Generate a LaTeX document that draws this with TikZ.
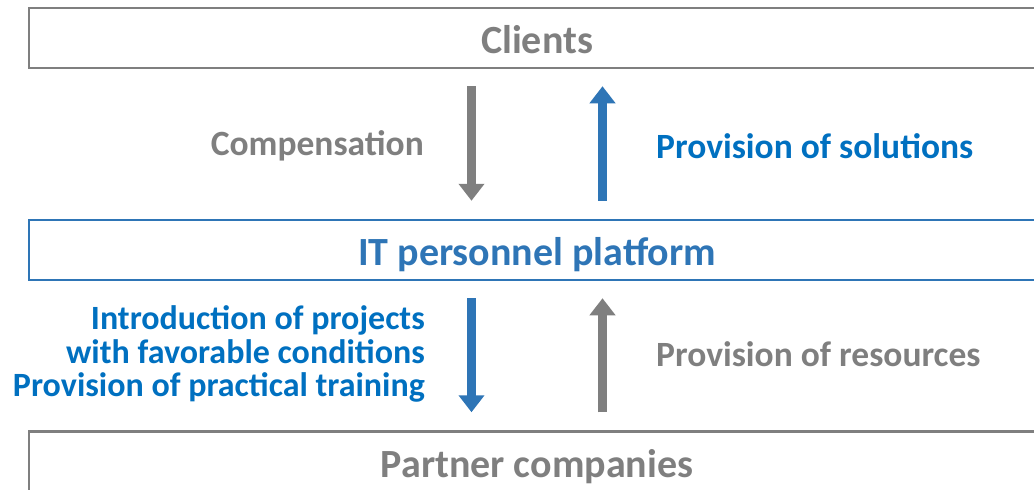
\documentclass[tikz,border=0pt]{standalone}
\usepackage{fontspec}
\setmainfont{Carlito}
\usetikzlibrary{arrows.meta, positioning}
\definecolor{boxgrey}{HTML}{7F7F7F}
\definecolor{boxblue}{HTML}{2E75B6}
\definecolor{textblue}{HTML}{0070C0}

\begin{document}
\begin{tikzpicture}[x=1pt,y=-1pt,
		box/.style={draw,line width=2.5pt,minimum width=1016pt,minimum height=60pt,
			inner sep=0pt,text height=38pt,text depth=7pt,
			font=\fontsize{40}{42}\selectfont\bfseries},
		tag/.style={inner sep=0pt,font=\fontsize{35.5}{33.5}\selectfont\bfseries},
		flow/.style={line width=8.5pt,-{Triangle[width=25pt,length=17pt]}}]
	\useasboundingbox (0,0) rectangle (1034,490);
	
	% the three levels
	\node[box,draw=boxgrey,text=boxgrey] (clients) at (537,38) {Clients};
	\node[box,draw=boxblue,text=boxblue] (platform) at (537,250) {IT personnel platform};
	\node[box,draw=boxgrey,text=boxgrey] (partners) at (537,461.5) {Partner companies};
	
	% arrows between the levels
	\draw[flow,boxgrey,shorten <=17pt,shorten >=18pt]
	([xshift=-65.5pt]clients.south) -- ([xshift=-65.5pt]platform.north);
	\draw[flow,boxblue,shorten <=18pt,shorten >=17pt]
	([xshift=65.5pt]platform.north) -- ([xshift=65.5pt]clients.south);
	\draw[flow,boxblue,shorten <=17pt,shorten >=18pt]
	([xshift=-65.5pt]platform.south) -- ([xshift=-65.5pt]partners.north);
	\draw[flow,boxgrey,shorten <=18pt,shorten >=17pt]
	([xshift=65.5pt]partners.north) -- ([xshift=65.5pt]platform.south);
	
	% labels
	\node[tag,text=boxgrey,anchor=east] (compensation) at (424,146) {Compensation};
	\node[tag,text=textblue,anchor=west] (solutions) at (656,146) {Provision of solutions};
	\node[tag,text=textblue,anchor=east,align=right,
		font=\fontsize{34}{33.5}\selectfont\bfseries] (training) at (425,354)
	{Introduction of projects\\with favorable conditions\\Provision of practical training};
	\node[tag,text=boxgrey,anchor=west] (resources) at (656,354) {Provision of resources};
\end{tikzpicture}
\end{document}
